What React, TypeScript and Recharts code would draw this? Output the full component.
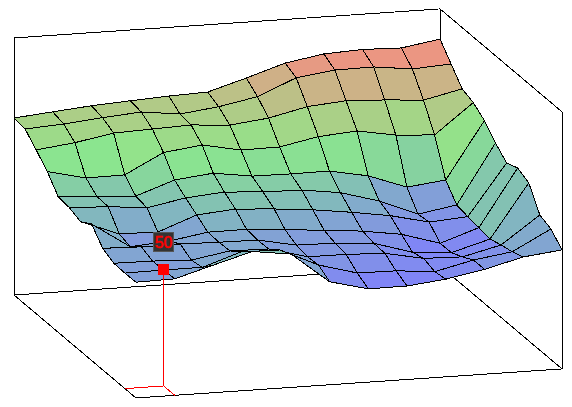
import { ScatterChart, Scatter, XAxis, YAxis } from "recharts"

// surface heights, one row per depth step (back to front), 12 x 12 grid
const heights = [
  [76.3, 77.8, 79.3, 80.3, 81.2, 81.8, 86.7, 92.0, 94.8, 95.6, 95.1, 97.8],
  [75.6, 76.6, 78.2, 79.5, 77.5, 79.5, 82.7, 89.7, 91.9, 92.1, 90.1, 91.1],
  [70.6, 72.6, 75.6, 76.2, 76.8, 75.6, 77.5, 81.3, 82.7, 81.9, 80.7, 84.4],
  [65.3, 61.4, 61.6, 70.1, 72.2, 68.9, 69.1, 72.4, 73.7, 70.8, 69.7, 82.5],
  [58.4, 57.4, 56.5, 62.3, 64.1, 61.7, 61.5, 61.6, 58.4, 52.4, 54.3, 78.8],
  [57.8, 57.1, 55.5, 58.6, 60.0, 58.9, 58.6, 56.3, 51.6, 44.8, 47.6, 73.2],
  [55.8, 49.4, 49.1, 55.3, 56.7, 55.6, 54.1, 51.9, 49.3, 45.4, 46.6, 68.6],
  [58.8, 47.9, 49.2, 51.9, 52.0, 50.6, 49.4, 47.8, 45.3, 40.3, 45.9, 70.5],
  [52.4, 51.9, 52.0, 51.6, 51.4, 48.1, 47.8, 46.6, 41.6, 40.3, 45.0, 68.1],
  [50.0, 49.8, 49.1, 51.9, 51.6, 47.1, 47.0, 46.3, 43.0, 42.5, 46.5, 58.3],
  [49.8, 50.0, 50.0, 55.5, 55.2, 47.6, 43.0, 42.8, 41.3, 45.2, 47.6, 56.3],
  [49.9, 50.2, 55.0, 59.7, 57.5, 44.4, 40.2, 40.3, 42.1, 45.2, 49.4, 51.3],
]

const boxTop = 110.8
const gridMax = 11
const selected = { u: 1, v: 10, value: 50 }

const colorStops: [number, number[]][] = [
  [40, [128, 128, 252]],
  [50, [130, 160, 215]],
  [56, [130, 188, 185]],
  [63, [135, 215, 155]],
  [69, [140, 232, 140]],
  [76, [165, 212, 135]],
  [82, [185, 195, 135]],
  [88, [208, 175, 135]],
  [93, [235, 150, 130]],
]

// parallel projection of the box
const project = (u: number, v: number, z: number) => ({
  x: 14 + 38.73 * u + 11.09 * v,
  y: 295 - 2.64 * u + 9.36 * v - 2.32 * z,
})

const colorFor = (z: number) => {
  if (z <= colorStops[0][0]) return `rgb(${colorStops[0][1].join(",")})`
  for (let i = 1; i < colorStops.length; i++) {
    const [z1, c1] = colorStops[i]
    const [z0, c0] = colorStops[i - 1]
    if (z <= z1) {
      const t = (z - z0) / (z1 - z0)
      return `rgb(${c0.map((c, k) => Math.round(c + (c1[k] - c) * t)).join(",")})`
    }
  }
  return `rgb(${colorStops[colorStops.length - 1][1].join(",")})`
}

const cells: { points: { x: number; y: number }[]; fill: string }[] = []
for (let v = 0; v < gridMax; v++) {
  for (let u = 0; u < gridMax; u++) {
    const zs = [heights[v][u], heights[v][u + 1], heights[v + 1][u + 1], heights[v + 1][u]]
    cells.push({
      points: [
        project(u, v, zs[0]),
        project(u + 1, v, zs[1]),
        project(u + 1, v + 1, zs[2]),
        project(u, v + 1, zs[3]),
      ],
      fill: colorFor((zs[0] + zs[1] + zs[2] + zs[3]) / 4),
    })
  }
}

const g = gridMax
const backEdges = [
  [project(0, 0, boxTop), project(g, 0, boxTop), project(g, g, boxTop), project(g, g, 0)],
  [project(0, 0, boxTop), project(0, 0, 0), project(g, 0, 0), project(g, g, 0)],
  [project(g, 0, boxTop), project(g, 0, 0)],
  [project(0, 0, 0), project(0, g, 0), project(g, g, 0)],
]

const footprint = [
  project(selected.u - 1, selected.v, 0),
  project(selected.u, selected.v, 0),
  project(selected.u, selected.v + 1, 0),
]
const drop = [project(selected.u, selected.v, 0), project(selected.u, selected.v, selected.value)]
const markerPoint = [project(selected.u, selected.v, selected.value)]

const noDot = () => null

const pathOf = (points: { x: number; y: number }[], close: boolean) =>
  points.map((p, i) => `${i ? "L" : "M"}${p.x},${p.y}`).join("") + (close ? "Z" : "")

const cellShape = (fill: string) => (props: any) => (
  <path
    d={pathOf(props.points, true)}
    fill={fill}
    stroke="#000"
    strokeWidth={1}
    shapeRendering="crispEdges"
  />
)

const edgeShape = (color: string) => (props: any) => (
  <path
    d={pathOf(props.points, false)}
    fill="none"
    stroke={color}
    strokeWidth={1}
    shapeRendering="crispEdges"
  />
)

const Marker = (props: any) => {
  const { cx, cy } = props
  return (
    <g>
      <rect
        x={cx - 5.5}
        y={cy - 5.5}
        width={11}
        height={11}
        fill="#ff0000"
        shapeRendering="crispEdges"
      />
      <rect
        x={cx - 10}
        y={cy - 37}
        width={20}
        height={19}
        fill="#333333"
        stroke="#555555"
        shapeRendering="crispEdges"
      />
      <text
        x={cx}
        y={cy - 21.5}
        textAnchor="middle"
        fontFamily="Liberation Sans, Arial, sans-serif"
        fontSize={16}
        fill="#ff0000"
        stroke="#ff0000"
        strokeWidth={0.5}
      >
        {selected.value}
      </text>
    </g>
  )
}

export default function App() {
  return (
    <div style={{ position: "absolute", left: 0, top: 0 }}>
      <ScatterChart width={572} height={407} margin={{ top: 0, right: 0, bottom: 0, left: 0 }}>
        <XAxis type="number" dataKey="x" domain={[0, 572]} hide />
        <YAxis type="number" dataKey="y" domain={[0, 407]} reversed hide />
        {backEdges.map((edge, i) => (
          <Scatter
            key={`edge-${i}`}
            data={edge}
            line={edgeShape("#000")}
            shape={noDot}
            isAnimationActive={false}
          />
        ))}
        {cells.map((cell, i) => (
          <Scatter
            key={`cell-${i}`}
            data={cell.points}
            line={cellShape(cell.fill)}
            shape={noDot}
            isAnimationActive={false}
          />
        ))}
        <Scatter data={footprint} line={edgeShape("#ff0000")} shape={noDot} isAnimationActive={false} />
        <Scatter data={drop} line={edgeShape("#ff0000")} shape={noDot} isAnimationActive={false} />
        <Scatter data={markerPoint} shape={Marker} isAnimationActive={false} />
      </ScatterChart>
    </div>
  )
}
